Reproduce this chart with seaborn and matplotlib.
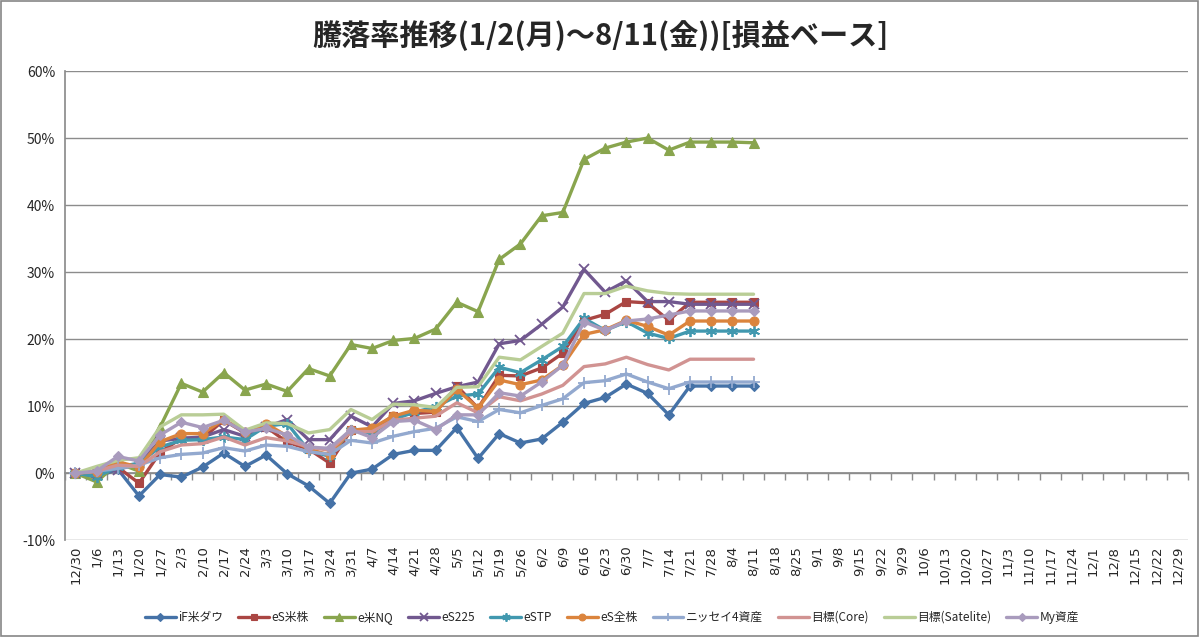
import matplotlib
matplotlib.use('Agg')
import matplotlib.pyplot as plt
import seaborn as sns
import numpy as np
from matplotlib.patches import Rectangle

# ---- data (weekly, percent) ----
dates = ['12/30', '1/6', '1/13', '1/20', '1/27', '2/3', '2/10', '2/17', '2/24', '3/3',
         '3/10', '3/17', '3/24', '3/31', '4/7', '4/14', '4/21', '4/28', '5/5', '5/12',
         '5/19', '5/26', '6/2', '6/9', '6/16', '6/23', '6/30', '7/7', '7/14', '7/21',
         '7/28', '8/4', '8/11', '8/18', '8/25', '9/1', '9/8', '9/15', '9/22', '9/29',
         '10/6', '10/13', '10/20', '10/27', '11/3', '11/10', '11/17', '11/24', '12/1',
         '12/8', '12/15', '12/22', '12/29']

if_dow = [0, -0.6, 0.6, -3.4, -0.2, -0.6, 0.9, 3.0, 1.0, 2.7, -0.1, -1.9, -4.5,
          0.0, 0.6, 2.8, 3.4, 3.4, 6.8, 2.2, 5.9, 4.5, 5.1, 7.6, 10.4, 11.3, 13.3,
          11.9, 8.7, 13.0, 13.0, 13.0, 13.0]
es_us = [0, -0.3, 0.9, -1.5, 3.1, 5.2, 5.2, 7.9, 6.0, 6.9, 4.6, 3.6, 1.5,
         6.4, 6.4, 8.6, 8.9, 9.1, 13.0, 9.7, 14.6, 14.5, 15.7, 17.9, 22.8, 23.7, 25.6,
         25.4, 22.8, 25.5, 25.5, 25.5, 25.5]
e_nq = [0, -1.3, 1.5, 0.3, 6.9, 13.4, 12.1, 15.0, 12.4, 13.3, 12.2, 15.6, 14.5,
        19.2, 18.6, 19.8, 20.1, 21.5, 25.5, 24.1, 31.9, 34.2, 38.4, 38.9, 46.8, 48.5, 49.4,
        50.0, 48.2, 49.4, 49.4, 49.4, 49.3]
es_225 = [0, 0.0, 0.5, 1.5, 4.8, 5.2, 5.4, 6.5, 5.5, 6.9, 8.0, 5.0, 5.0,
          8.5, 6.9, 10.4, 10.8, 11.9, 12.9, 13.6, 19.3, 19.8, 22.2, 24.8, 30.4, 27.0, 28.7,
          25.6, 25.6, 25.2, 25.2, 25.2, 25.2]
e_stp = [0, -0.5, 0.9, 1.5, 3.9, 4.9, 5.0, 5.4, 5.0, 7.0, 7.4, 3.4, 2.5,
         6.4, 6.0, 8.0, 9.1, 9.9, 11.5, 11.8, 15.8, 15.0, 16.9, 18.9, 23.1, 21.3, 22.6,
         20.9, 20.1, 21.2, 21.2, 21.2, 21.2]
es_all = [0, 0.2, 1.7, 0.9, 4.7, 5.9, 5.9, 8.0, 6.2, 7.4, 5.5, 3.6, 2.7,
          6.4, 6.7, 8.5, 9.4, 9.2, 12.5, 9.7, 13.9, 13.2, 13.9, 16.1, 20.7, 21.4, 22.8,
          21.9, 20.6, 22.7, 22.7, 22.7, 22.7]
nissay4 = [0, 0.3, 0.7, 1.2, 2.3, 2.8, 3.0, 3.8, 3.3, 4.2, 4.0, 3.2, 2.8,
           4.9, 4.5, 5.5, 6.2, 6.7, 8.4, 7.7, 9.5, 9.0, 10.1, 11.1, 13.5, 13.8, 14.8,
           13.6, 12.6, 13.6, 13.6, 13.6, 13.6]
target_core = [0, 0.3, 1.2, 1.0, 3.2, 4.2, 4.4, 5.4, 4.2, 5.3, 4.8, 3.9, 3.4,
               6.2, 6.2, 7.9, 8.2, 8.5, 10.5, 9.0, 11.4, 10.8, 11.8, 13.1, 15.9, 16.3, 17.3,
               16.2, 15.4, 17.0, 17.0, 17.0, 17.0]
target_sat = [0, 1.0, 1.9, 2.3, 6.9, 8.7, 8.7, 8.8, 6.4, 7.5, 7.4, 6.0, 6.5,
              9.5, 8.0, 10.3, 10.2, 9.8, 12.8, 12.9, 17.3, 16.9, 18.9, 20.9, 26.8, 26.8, 27.9,
              27.2, 26.8, 26.7, 26.7, 26.7, 26.7]
my_assets = [0, 0.3, 2.5, 1.8, 5.7, 7.6, 6.8, 7.9, 6.1, 6.7, 5.7, 3.9, 3.7,
             6.5, 5.3, 7.7, 7.9, 6.5, 8.7, 8.7, 12.0, 11.5, 13.6, 16.1, 22.6, 21.3, 22.7,
             23.0, 23.6, 24.2, 24.2, 24.2, 24.2]

names = ['iF米ダウ', 'eS米株', 'e米NQ', 'eS225', 'eSTP', 'eS全株',
         'ニッセイ4資産', '目標(Core)', '目標(Satelite)', 'My資産']
series = [if_dow, es_us, e_nq, es_225, e_stp, es_all,
          nissay4, target_core, target_sat, my_assets]

# Excel 2007 palette
colors = ['#4572A7', '#AA4643', '#89A54E', '#71588F', '#4198AF', '#DB843D',
          '#93A9CF', '#D19392', '#B9CD96', '#A99BBD']
markers = ['D', 's', '^', 'x', (6, 2, 0), 'o', '+', None, None, 'D']
msizes = [5, 6, 7, 7, 8, 6.5, 8, 0, 0, 5]

sns.set_theme(style='white')
plt.rcParams['font.family'] = ['Noto Sans CJK JP', 'DejaVu Sans']

fig = plt.figure(figsize=(12, 6.37), dpi=100)
ax = fig.add_axes([0.054, 0.152, 0.936, 0.7365])

grid_c = '#8c8c8c'
ax.set_ylim(-10, 60)
ax.set_xlim(-0.5, len(dates) - 0.5)
ax.set_yticks(np.arange(-10, 61, 10))
ax.yaxis.grid(True, color=grid_c, lw=1)
ax.set_axisbelow(True)

x = np.arange(len(if_dow))
for name, vals, c, m, ms in zip(names, series, colors, markers, msizes):
    kw = dict(x=x, y=vals, ax=ax, color=c, lw=2.4, label=name)
    if m is not None:
        mew = 1.3 if m in ('x', '+', (6, 2, 0)) else 0.8
        kw.update(marker=m, markersize=ms, markeredgecolor=c, markeredgewidth=mew)
    sns.lineplot(**kw)

ax.set_yticklabels([f'{v}%' for v in range(-10, 61, 10)], fontsize=10)
ax.set_xticks(np.arange(len(dates)))
ax.set_xticklabels(dates, rotation=90, fontsize=9.5, family='DejaVu Sans')
ax.tick_params(axis='x', length=0, pad=4)
ax.tick_params(axis='y', length=4, direction='out', color=grid_c, pad=3)
for s in ['top', 'right', 'bottom']:
    ax.spines[s].set_visible(False)
ax.spines['left'].set_color(grid_c)

# category axis crossing at 0 with tick marks between categories
sec = ax.secondary_xaxis(10 / 70)
sec.set_xticks(np.arange(-0.5, len(dates), 1))
sec.set_xticklabels([])
sec.tick_params(length=5, direction='out', color=grid_c, width=1)
sec.spines['bottom'].set_color(grid_c)
ax.set_xlabel('')
ax.set_ylabel('')

ax.legend(loc='lower center', bbox_to_anchor=(0.51, 0.004), bbox_transform=fig.transFigure,
          ncol=10, frameon=False, fontsize=8.5, handlelength=2.6, columnspacing=1.3,
          handletextpad=0.2, markerscale=0.75)

fig.text(0.5, 0.945, '騰落率推移(1/2(月)～8/11(金))[損益ベース]', ha='center', va='center',
         fontsize=21, fontweight='bold')

fig.patches.append(Rectangle((0.001, 0.002), 0.997, 0.996, transform=fig.transFigure,
                             fill=False, ec='#868686', lw=1.2))

fig.savefig('out.png', dpi=100)
